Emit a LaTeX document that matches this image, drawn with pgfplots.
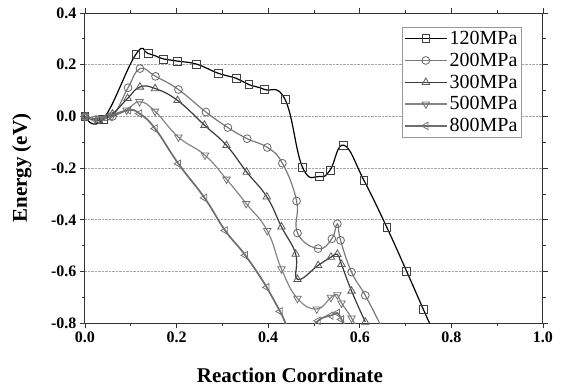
\documentclass[border=0pt]{standalone}
\usepackage{fontspec}
\setmainfont{Liberation Serif}
\usepackage{pgfplots}
\pgfplotsset{compat=1.18}
\definecolor{c120}{HTML}{000000}
\definecolor{c200}{HTML}{7A7A7A}
\definecolor{c300}{HTML}{3A3A3A}
\definecolor{c500}{HTML}{858585}
\definecolor{c800}{HTML}{6E6E6E}
\begin{document}
\begin{tikzpicture}
\path[use as bounding box] (-85pt,-63pt) rectangle (481pt,323.3pt);
\begin{axis}[
  at={(0pt,0pt)}, anchor=south west,
  scale only axis, width=458pt, height=310.3pt,
  xmin=0, xmax=1, ymin=-0.8, ymax=0.4,
  xtick={0,0.2,...,1.0}, ytick={-0.8,-0.6,...,0.4},
  minor xtick={0.1,0.3,0.5,0.7,0.9},
  minor ytick={-0.7,-0.5,-0.3,-0.1,0.1,0.3},
  tick align=outside, major tick length=5pt, minor tick length=3pt,
  xticklabel style={/pgf/number format/fixed,/pgf/number format/fixed zerofill,/pgf/number format/precision=1},
  yticklabel style={/pgf/number format/fixed,/pgf/number format/fixed zerofill,/pgf/number format/precision=1},
  /pgf/number format/assume math mode=true,
  ticklabel style={font=\bfseries\fontsize{16}{16}\selectfont},
  axis line style={line width=1pt, black!80},
  every tick/.style={line width=0.9pt, black!80},
  ymajorgrids, grid style={densely dotted, line width=0.8pt, gray!70},
  xlabel={Reaction Coordinate}, ylabel={Energy (eV)},
  label style={font=\bfseries\fontsize{21}{21}\selectfont},
  xlabel style={at={(axis description cs:0.4476,0)}, anchor=center, yshift=-52pt},
  ylabel style={at={(axis description cs:-0.138,0.5)}, anchor=center},
  legend cell align=left,
  legend style={at={(axis description cs:0.6915,0.955)}, anchor=north west,
    draw=gray!80, line width=0.6pt, fill=white, font=\fontsize{20}{20}\selectfont,
    row sep=3pt, inner xsep=2pt, inner ysep=2pt},
  legend image code/.code={\draw[mark repeat=2, mark phase=2, #1] plot coordinates {(0pt,0pt) (21pt,0pt) (42pt,0pt)};},
]
\addplot[smooth, tension=0.75, color=c120, line width=1.2pt, mark=square, mark size=3.9pt, mark options={fill=white, draw=black!75, line width=0.8pt}] coordinates {
(0,0) (0.04,-0.01) (0.111,0.240) (0.138,0.243) (0.172,0.222) (0.202,0.214) (0.244,0.202) (0.291,0.167) (0.331,0.147) (0.358,0.123) (0.391,0.105) (0.437,0.065) (0.475,-0.197) (0.512,-0.232) (0.535,-0.208) (0.565,-0.111) (0.609,-0.247) (0.659,-0.429) (0.702,-0.598) (0.739,-0.747) (0.77,-0.87)
};
\addlegendentry{120MPa}
\addplot[smooth, tension=0.75, color=c200, line width=1.2pt, mark=o, mark size=3.9pt, mark options={fill=white, draw=black!60, line width=0.8pt}] coordinates {
(0,0) (0.03,-0.012) (0.06,0.0) (0.094,0.111) (0.120,0.185) (0.154,0.155) (0.204,0.104) (0.264,0.017) (0.312,-0.043) (0.354,-0.086) (0.398,-0.120) (0.431,-0.181) (0.462,-0.327) (0.464,-0.451) (0.509,-0.511) (0.539,-0.473) (0.551,-0.415) (0.558,-0.479) (0.582,-0.602) (0.612,-0.692) (0.644,-0.802)
};
\addlegendentry{200MPa}
\addplot[smooth, tension=0.75, color=c300, line width=1.2pt, mark=triangle, mark size=4.3pt, mark options={fill=white, draw=black!65, line width=0.8pt}] coordinates {
(0,0) (0.03,-0.015) (0.06,0.01) (0.093,0.070) (0.120,0.114) (0.153,0.108) (0.202,0.062) (0.261,-0.034) (0.309,-0.112) (0.353,-0.215) (0.397,-0.311) (0.429,-0.427) (0.460,-0.532) (0.464,-0.630) (0.509,-0.576) (0.537,-0.544) (0.551,-0.533) (0.560,-0.572) (0.582,-0.675) (0.612,-0.795)
};
\addlegendentry{300MPa}
\addplot[smooth, tension=0.75, color=c500, line width=1.2pt, mark=triangle, mark size=4.3pt, mark options={rotate=180, fill=white, draw=black!55, line width=0.8pt}] coordinates {
(0,0) (0.03,-0.01) (0.058,0.0) (0.091,0.024) (0.119,0.057) (0.153,0.020) (0.204,-0.080) (0.262,-0.150) (0.309,-0.243) (0.352,-0.337) (0.398,-0.442) (0.429,-0.590) (0.464,-0.704) (0.506,-0.745) (0.537,-0.700) (0.551,-0.690) (0.560,-0.722) (0.582,-0.78) (0.612,-0.88)
};
\addlegendentry{500MPa}
\addplot[smooth, tension=0.75, color=c800, line width=1.7pt, mark=triangle, mark size=4.3pt, mark options={rotate=90, fill=white, draw=black!55, line width=0.8pt}] coordinates {
(0,0) (0.02,-0.01) (0.05,0.0) (0.095,0.024) (0.119,0.011) (0.153,-0.047) (0.204,-0.183) (0.261,-0.315) (0.306,-0.441) (0.350,-0.537) (0.397,-0.661) (0.426,-0.754) (0.464,-0.87) (0.509,-0.79) (0.537,-0.77) (0.551,-0.76) (0.560,-0.785) (0.582,-0.85)
};
\addlegendentry{800MPa}
\end{axis}
\end{tikzpicture}
\end{document}
